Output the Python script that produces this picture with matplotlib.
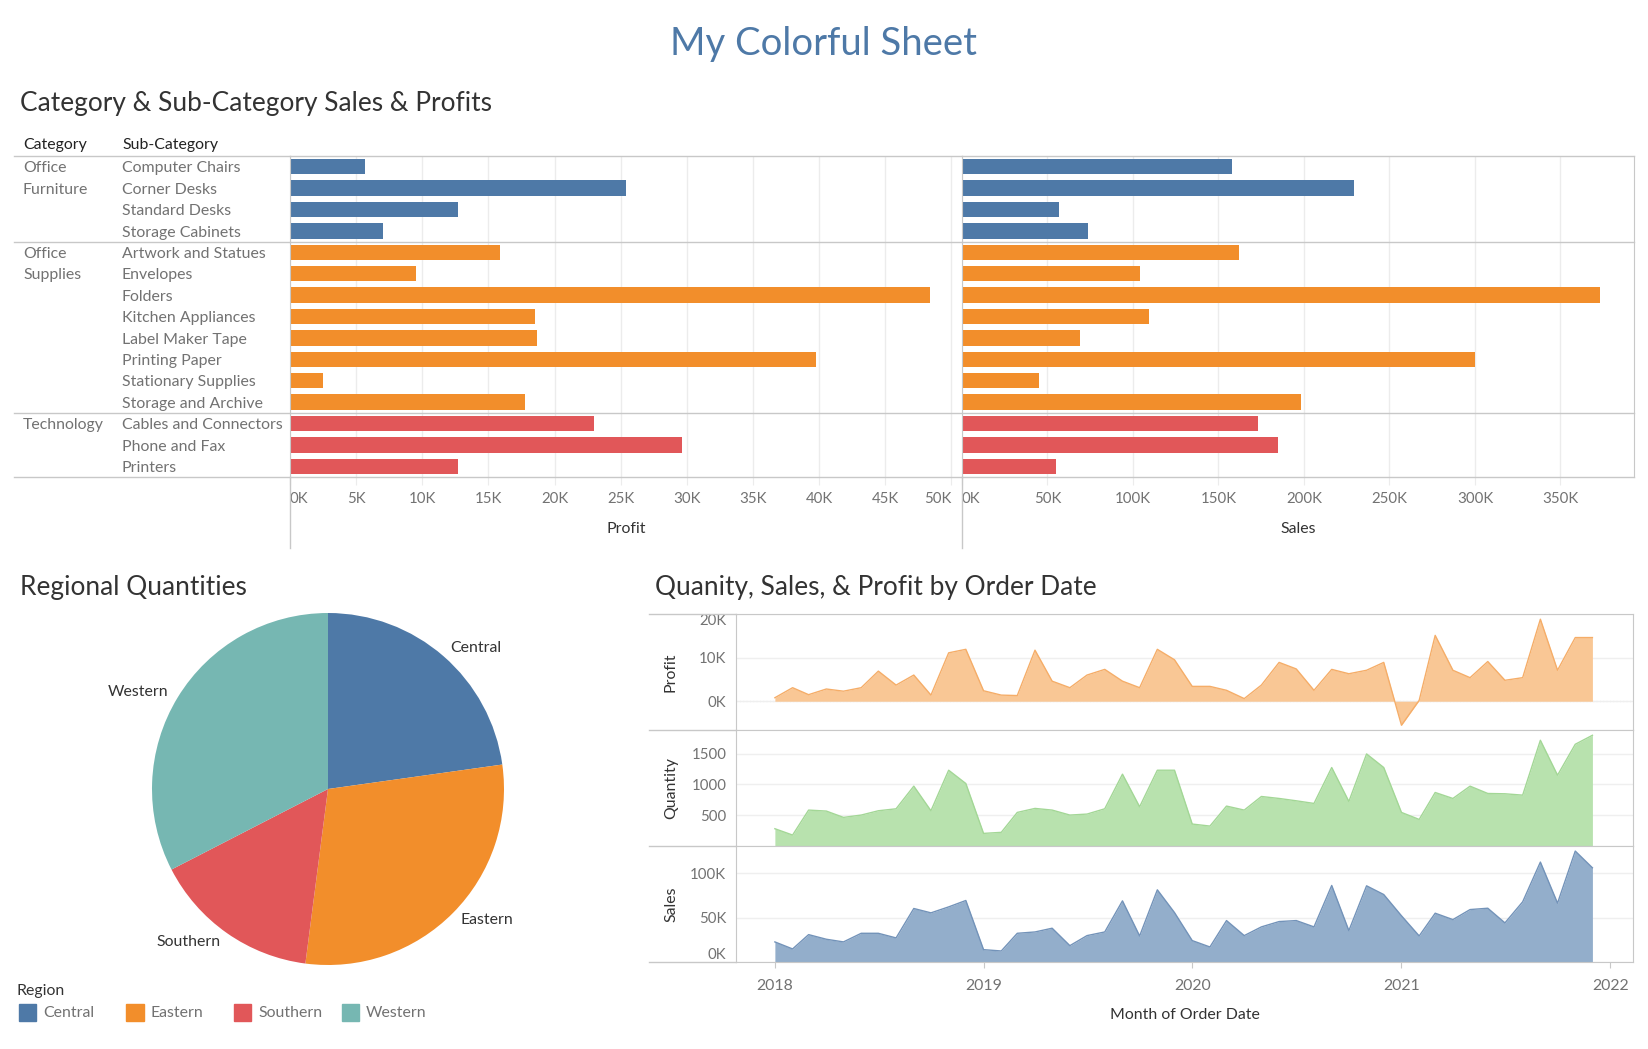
import numpy as np
import pandas as pd
import matplotlib
matplotlib.use('Agg')
import matplotlib.pyplot as plt
import matplotlib.dates as mdates
from matplotlib.lines import Line2D
from matplotlib.patches import Rectangle

plt.rcParams['font.family'] = ['Lato', 'DejaVu Sans']

# --- data ---
cat_names = ['Office Furniture', 'Office Supplies', 'Technology']
cat_sizes = [4, 8, 3]
cat_colors = ['#4e79a7', '#f28e2b', '#e15759']
sub_cats = ['Computer Chairs', 'Corner Desks', 'Standard Desks', 'Storage Cabinets',
            'Artwork and Statues', 'Envelopes', 'Folders', 'Kitchen Appliances',
            'Label Maker Tape', 'Printing Paper', 'Stationary Supplies', 'Storage and Archive',
            'Cables and Connectors', 'Phone and Fax', 'Printers']
profit = [5660, 25400, 12700, 7000,
          15900, 9500, 48400, 18500, 18700, 39800, 2500, 17800,
          23000, 29600, 12700]
sales = [158000, 229000, 56600, 73800,
         162000, 104000, 373000, 109500, 69000, 300000, 45000, 198000,
         173000, 185000, 55000]

regions = ['Central', 'Eastern', 'Southern', 'Western']
region_qty = [8780, 11280, 5930, 12550]
region_colors = ['#4e79a7', '#f28e2b', '#e15759', '#76b7b2']

months = pd.date_range('2018-01-01', periods=48, freq='MS')
profit_m = [0.8, 3.1, 1.5, 2.8, 2.3, 3.1, 6.9, 3.7, 6.0, 1.4, 11.1, 11.9,
            2.4, 1.4, 1.3, 11.7, 4.6, 3.1, 6.0, 7.3, 4.6, 3.1, 11.9, 9.5,
            3.4, 3.4, 2.5, 0.6, 3.7, 8.9, 7.4, 2.5, 7.3, 6.3, 7.1, 8.9,
            -5.5, 0.2, 15.1, 7.1, 5.4, 9.1, 4.8, 5.4, 18.8, 7.1, 14.6, 14.6]
qty_m = [281, 178, 584, 568, 465, 503, 573, 605, 973, 573, 1232, 1016,
         205, 222, 546, 611, 584, 503, 519, 605, 1168, 638, 1232, 1232,
         357, 324, 649, 584, 805, 773, 735, 692, 1276, 724, 1497, 1276,
         546, 432, 870, 773, 973, 854, 849, 827, 1719, 1151, 1654, 1800]
sales_m = [22.6, 14.7, 30.8, 25.6, 22.6, 32.3, 32.3, 27.1, 60.2, 55.3, 62.0, 69.2,
           13.9, 12.4, 32.3, 33.8, 38.0, 18.4, 29.7, 33.8, 68.8, 29.3, 81.2, 55.6,
           24.1, 16.9, 46.6, 29.7, 39.5, 45.5, 46.6, 39.5, 86.1, 35.3, 85.7, 75.9,
           52.0, 29.3, 54.9, 47.7, 59.0, 60.5, 44.0, 67.7, 112.4, 66.2, 124.8, 106.0]

# --- layout helpers (pixel coords of a 1649x1049 canvas) ---
W, H = 1649, 1049

def box(x0, y0, x1, y1):
    return [x0 / W, 1 - y1 / H, (x1 - x0) / W, (y1 - y0) / H]

def fx(x):
    return x / W

def fy(y):
    return 1 - y / H

def kfmt(v, pos=None):
    return '%dK' % round(v / 1000)

TXT = '#333333'
LT = '#727272'
LINE = '#c8c8c8'
GRID = '#ececec'
FS = 11.4

fig = plt.figure(figsize=(W / 100, H / 100), dpi=100)

fig.text(fx(824), fy(44), 'My Colorful Sheet', ha='center', va='center', fontsize=27.5, color='#4e79a7')
fig.text(fx(20), fy(103), 'Category & Sub-Category Sales & Profits', va='center', fontsize=18.9, color=TXT)
fig.text(fx(20), fy(587), 'Regional Quantities', va='center', fontsize=18.9, color=TXT)
fig.text(fx(655), fy(587), 'Quanity, Sales, & Profit by Order Date', va='center', fontsize=18.9, color=TXT)

# --- bar chart ---
n = len(sub_cats)
rows = np.arange(n)
bar_colors = []
for c, s in zip(cat_colors, cat_sizes):
    bar_colors += [c] * s
bounds = [-0.5] + list(np.cumsum(cat_sizes) - 0.5)

fig.text(fx(23), fy(145), 'Category', va='center', fontsize=FS, color='#222222')
fig.text(fx(122), fy(145), 'Sub-Category', va='center', fontsize=FS, color='#222222')

ax_h = fig.add_axes(box(14, 156, 290, 477))
ax_h.set_xlim(14, 290)
ax_h.set_ylim(n - 0.5, -0.5)
ax_h.axis('off')
start = 0
for name, size in zip(cat_names, cat_sizes):
    for j, w in enumerate(name.split()):
        ax_h.text(23, start + j + 0.08, w, va='center', fontsize=FS, color=LT)
    start += size
for i, s in enumerate(sub_cats):
    ax_h.text(122, i + 0.08, s, va='center', fontsize=FS, color=LT)

ax_p = fig.add_axes(box(290, 156, 962, 477))
ax_s = fig.add_axes(box(962, 156, 1634, 477))
for ax, vals, xmax, step, lab in [(ax_p, profit, 50800, 5000, 'Profit'),
                                  (ax_s, sales, 393000, 50000, 'Sales')]:
    ax.barh(rows, vals, height=0.72, color=bar_colors, zorder=2)
    ax.set_xlim(0, xmax)
    ax.set_ylim(n - 0.5, -0.5)
    ax.set_yticks([])
    ticks = np.arange(0, xmax, step)
    ax.set_xticks(ticks)
    ax.set_xticklabels([kfmt(t) for t in ticks])
    ax.get_xticklabels()[0].set_ha('left')
    ax.grid(axis='x', color=GRID, lw=1, zorder=0)
    ax.tick_params(axis='x', length=6, color=GRID, labelcolor=LT, labelsize=10.8, pad=5)
    ax.set_xlabel(lab, fontsize=FS, color=TXT, labelpad=11)
    for sp in ['top', 'bottom', 'right']:
        ax.spines[sp].set_visible(False)
    ax.spines['left'].set_color(LINE)
ax_p.get_xticklabels()[-1].set_ha('right')
ax_s.spines['right'].set_visible(True)
ax_s.spines['right'].set_color(LINE)

for ax in (ax_h, ax_p, ax_s):
    for b in bounds:
        ax.axhline(b, color=LINE, lw=1, clip_on=False, zorder=3)

for x in (290, 962):
    fig.add_artist(Line2D([fx(x), fx(x)], [fy(477), fy(548)], color=LINE, lw=1))

# --- pie ---
cx, cy, r = 328, 789, 176
ax_pie = fig.add_axes(box(cx - r, cy - r, cx + r, cy + r))
ax_pie.pie(region_qty, colors=region_colors, labels=regions, startangle=90, counterclock=False,
           labeldistance=1.06, textprops=dict(fontsize=FS, color=TXT), wedgeprops=dict(lw=0))
ax_pie.set_xlim(-1, 1)
ax_pie.set_ylim(-1, 1)

fig.text(fx(17), fy(991), 'Region', va='center', fontsize=FS, color=TXT)
for i, (rg, c) in enumerate(zip(regions, region_colors)):
    x0 = 19 + i * 107.5
    fig.add_artist(Rectangle((fx(x0), fy(1021)), 17 / W, 17 / H, color=c, transform=fig.transFigure))
    fig.text(fx(x0 + 24), fy(1013), rg, va='center', fontsize=FS, color=LT)

# --- time series ---
ts = [
    (box(736, 614, 1633, 730), np.array(profit_m) * 1000, 'Profit', '#f9c795', '#f5ad68',
     (-6600, 20000), [0, 10000, 20000], kfmt),
    (box(736, 730, 1633, 846), np.array(qty_m), 'Quantity', '#b8e2ae', '#a3d796',
     (0, 1886), [500, 1000, 1500], lambda v, p=None: '%d' % v),
    (box(736, 846, 1633, 962), np.array(sales_m) * 1000, 'Sales', '#93aecb', '#7393b9',
     (0, 130500), [0, 50000, 100000], kfmt),
]
xlo, xhi = pd.Timestamp('2017-10-25'), pd.Timestamp('2022-02-10')
ts_axes = []
for rect, vals, lab, fill, edge, ylim, yt, fmt in ts:
    ax = fig.add_axes(rect)
    ax.fill_between(months, vals, 0, color=fill, lw=0, zorder=2)
    ax.plot(months, vals, color=edge, lw=1, zorder=3)
    ax.set_xlim(xlo, xhi)
    ax.set_ylim(*ylim)
    ax.set_yticks(yt)
    ax.set_yticklabels([fmt(v) for v in yt])
    ax.grid(axis='y', color='#efefef', lw=1, zorder=0)
    ax.tick_params(axis='y', length=0, pad=7, labelcolor=LT, labelsize=10.8)
    ax.tick_params(axis='x', length=0, labelbottom=False)
    for sp in ax.spines.values():
        sp.set_color(LINE)
    ax.set_ylabel(lab, fontsize=FS, color=TXT)
    ax.yaxis.set_label_coords((671 - 736) / 897, 0.5)
    ax.yaxis.label.set_va('center')
    ts_axes.append(ax)

ax1, ax2, ax3 = ts_axes
ax1.get_yticklabels()[-1].set_va('top')
ax3.get_yticklabels()[0].set_va('bottom')
ax1.axhline(0, color='#aaaaaa', lw=0.8, ls=(0, (1, 2)), zorder=1)

ax3.xaxis.set_major_locator(mdates.YearLocator())
ax3.xaxis.set_major_formatter(mdates.DateFormatter('%Y'))
ax3.tick_params(axis='x', length=4, color=LINE, labelbottom=True, labelcolor=LT, labelsize=FS, pad=8)
ax3.set_xlabel('Month of Order Date', fontsize=FS, color=TXT, labelpad=11)

for y in (614, 730, 846, 962):
    fig.add_artist(Line2D([fx(649), fx(736)], [fy(y), fy(y)], color=LINE, lw=1))

fig.savefig('out.png', dpi=100)
